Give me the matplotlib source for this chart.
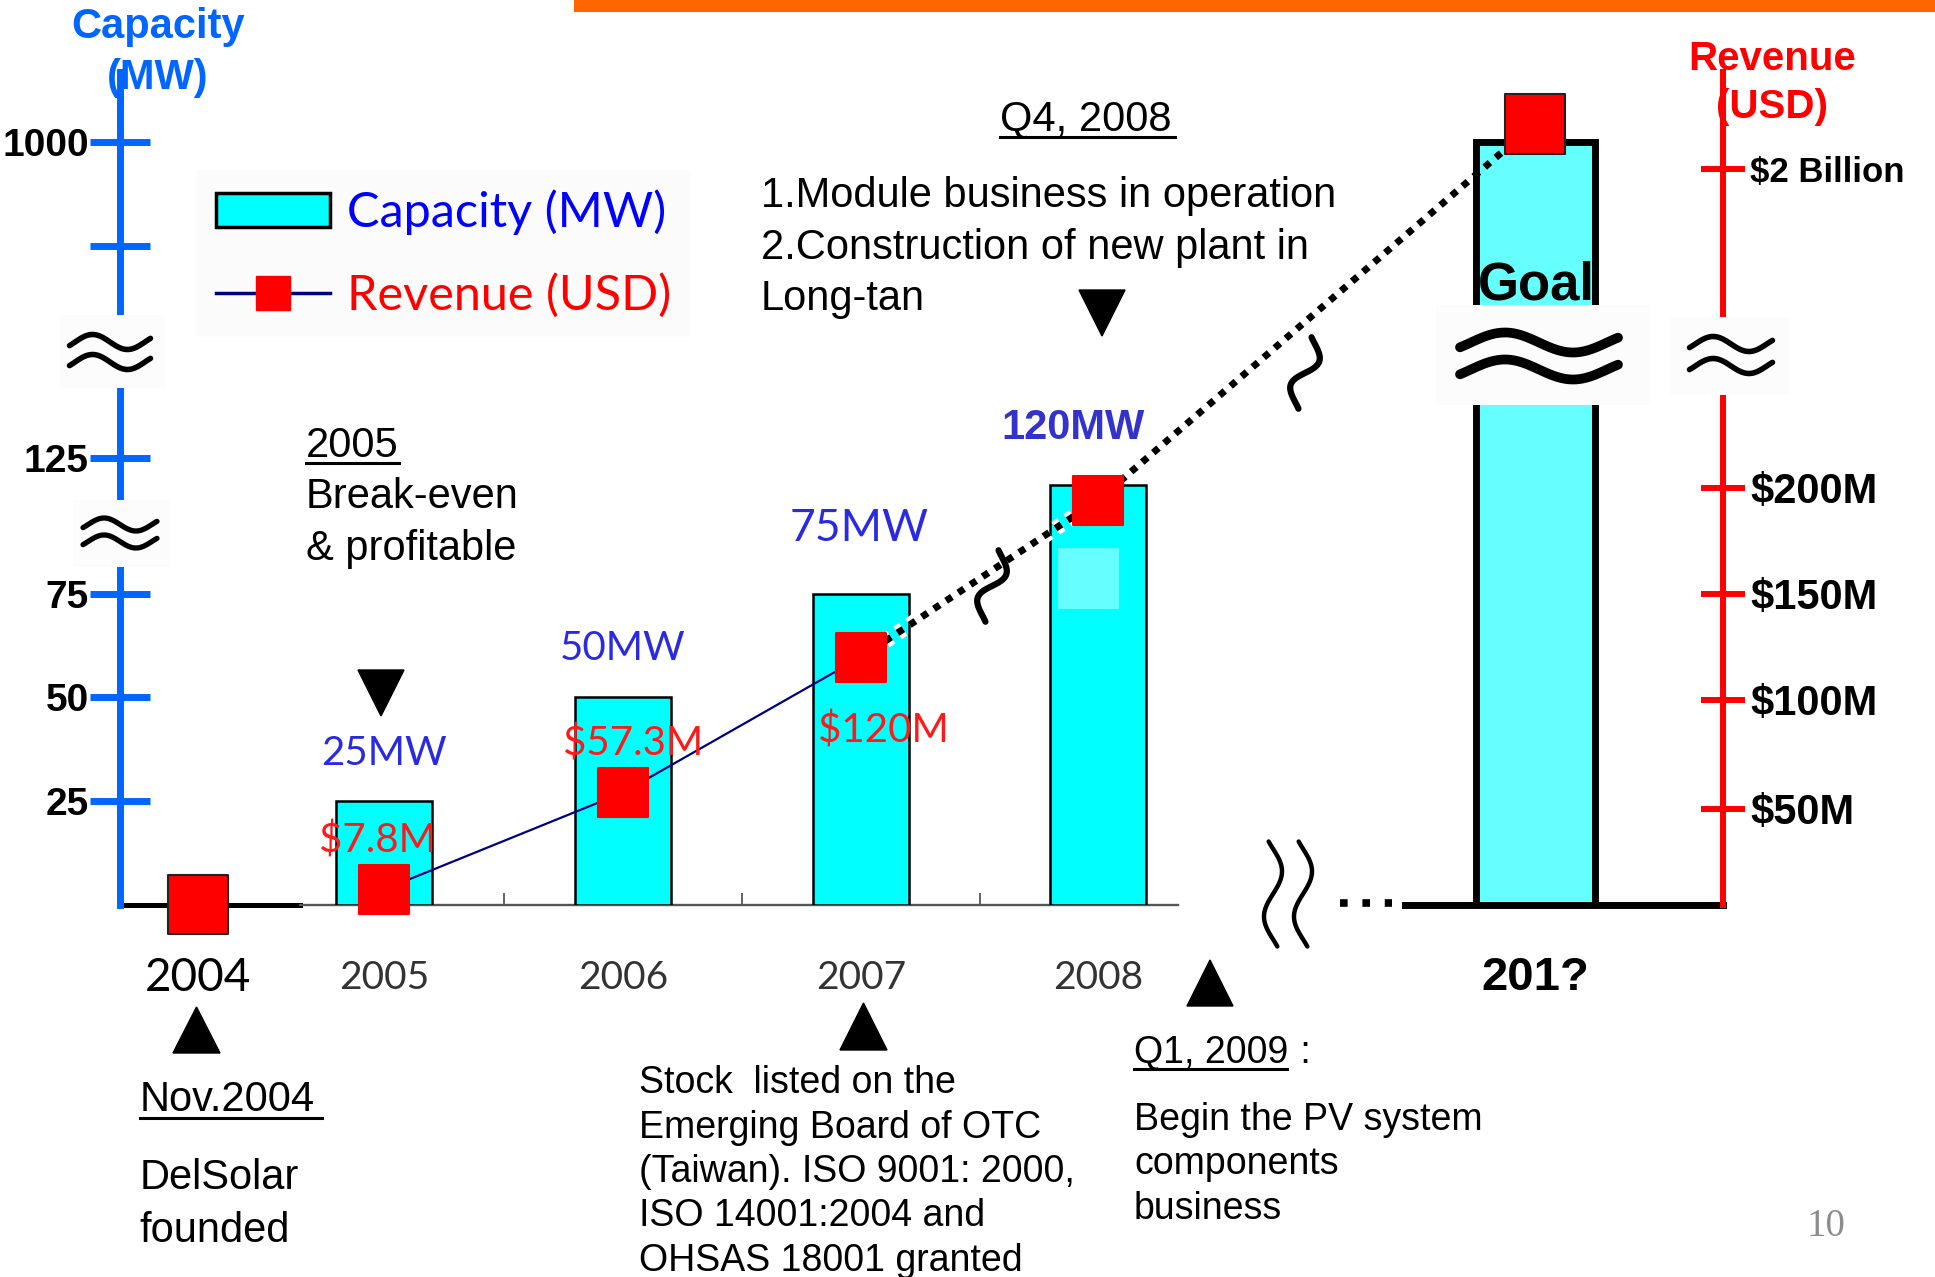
import numpy as np
import matplotlib
matplotlib.use('Agg')
import matplotlib.pyplot as plt
from matplotlib.patches import Patch, Rectangle, Polygon
from matplotlib.lines import Line2D
import matplotlib.patheffects as pe

plt.rcParams['font.family'] = ['Liberation Sans', 'DejaVu Sans']

# ---- data ----
years = ['2004', '2005', '2006', '2007', '2008', '201?']
capacity = [0, 25, 50, 75, 120, 1000]          # MW
revenue = [0, 7.8, 57.3, 120, 194, 2500]        # million USD
cap_labels = ['', '25MW', '50MW', '75MW', '120MW', '']
rev_labels = ['', '$7.8M', '$57.3M', '$120M', '', '']

cap_ticks = [25, 50, 75, 125, 500, 1000]
cap_ticklabels = ['25', '50', '75', '125', '', '1000']
rev_ticks = [50, 100, 150, 200, 2000]
rev_ticklabels = ['$50M', '$100M', '$150M', '$200M', '$2 Billion']

# broken axes: value -> pixels above the baseline
cap_brk = [0, 75, 120, 125, 500, 1000, 1500]
cap_brk_px = [0, 311, 419.5, 446.7, 659, 763, 870]
rev_brk = [0, 50, 100, 150, 200, 2000, 3000, 4000]
rev_brk_px = [0, 96, 205, 311, 417, 735.5, 826, 917]

# ---- layout ----
W, H = 1935, 1277
base = 904.5
top = 72
xpos = [198, 384, 623, 861, 1098, 1535]
BLUE_AX = '#0066ff'

fig = plt.figure(figsize=(W / 100, H / 100), dpi=100)
ax = fig.add_axes([120 / W, (H - base) / H, (1723 - 120) / W, (base - top) / H])
ax.set_xlim(120, 1723)

cap_f = lambda v: np.interp(v, cap_brk, cap_brk_px)
cap_i = lambda p: np.interp(p, cap_brk_px, cap_brk)
rev_f = lambda v: np.interp(v, rev_brk, rev_brk_px)
rev_i = lambda p: np.interp(p, rev_brk_px, rev_brk)

ax.set_yscale('function', functions=(cap_f, cap_i))
ax.set_ylim(0, cap_i(base - top))

# capacity bars
ax.bar(xpos[1:5], capacity[1:5], width=96, color='#00ffff', edgecolor='black',
       linewidth=1.8, zorder=2)
ax.bar(xpos[5], capacity[5], width=119, color='#66ffff', edgecolor='black',
       linewidth=5, zorder=2)

cap_off = [None, (0, 34), (0, 35), (-1.5, 47), (-18, 41)]
for i in range(1, 5):
    if i < 4:
        ax.annotate(cap_labels[i], (xpos[i], capacity[i]), xytext=cap_off[i],
                    textcoords='offset points', ha='center', va='center',
                    family='Lato', fontsize=32 if i == 3 else 29, color='#2a2ae0')
    else:
        ax.annotate(cap_labels[i], (xpos[i], capacity[i]), xytext=cap_off[i],
                    textcoords='offset points', ha='center', va='center',
                    fontsize=30, fontweight='bold', color='#3333cc')

# baseline pieces
ax.plot([120, 300], [0, 0], color='black', lw=3.6, clip_on=False, zorder=1)
ax.plot([300, 1178], [0, 0], color='#555555', lw=1.7, clip_on=False, zorder=1)
ax.plot([1405, 1723], [0, 0], color='black', lw=5, clip_on=False, zorder=1)

for s in ['top', 'right', 'bottom']:
    ax.spines[s].set_visible(False)
ax.spines['left'].set_color(BLUE_AX)
ax.spines['left'].set_linewidth(5)
ax.set_yticks(cap_ticks, cap_ticklabels)
ax.tick_params(axis='y', direction='inout', length=43, width=5, color=BLUE_AX,
               pad=1, labelsize=28)
for lab in ax.get_yticklabels():
    lab.set_fontweight('bold')

ax.set_xticks(xpos, years)
ax.set_xticks([(xpos[i] + xpos[i + 1]) / 2 for i in range(1, 4)], minor=True)
ax.tick_params(axis='x', which='major', length=0, pad=53)
ax.tick_params(axis='x', which='minor', direction='in', length=9, width=1.3,
               color='#555555')
xl = ax.get_xticklabels()
for i, lab in enumerate(xl):
    lab.set_va('center')
    if i == 0:
        lab.set_family('Lato'); lab.set_fontsize(33); lab.set_color('black')
    elif i < 5:
        lab.set_family('Lato'); lab.set_fontsize(28); lab.set_color('#333333')
    else:
        lab.set_fontsize(34); lab.set_fontweight('bold')

# revenue axis
ax2 = ax.twinx()
ax2.set_yscale('function', functions=(rev_f, rev_i))
ax2.set_ylim(0, rev_i(base - top))
for s in ['top', 'left', 'bottom']:
    ax2.spines[s].set_visible(False)
ax2.spines['right'].set_color('red')
ax2.spines['right'].set_linewidth(4.3)
ax2.set_yticks(rev_ticks, rev_ticklabels)
ax2.tick_params(axis='y', direction='inout', length=32, width=4.3, color='red',
                pad=3.5, labelsize=30)
for lab in ax2.get_yticklabels():
    lab.set_fontweight('bold')
ax2.get_yticklabels()[-1].set_fontsize(25)

ax2.plot(xpos[1:4], revenue[1:4], color='#000080', lw=1.6, zorder=2)
ax2.plot(xpos[3:5], revenue[3:5], color='black', lw=5, ls=(0, (1, 1.1)),
         dash_capstyle='butt', zorder=2,
         path_effects=[pe.withStroke(linewidth=11, foreground='white')])
ax2.plot(xpos[4:6], revenue[4:6], color='black', lw=5, ls=(0, (1, 1.1)),
         dash_capstyle='butt', zorder=2)
msz = [42.5, 35.3, 35.3, 35.3, 35.3, 43]
medge = ['#222222', 'red', 'red', 'red', 'red', '#222222']
ax2.scatter(xpos, revenue, s=np.array(msz) ** 2, marker='s', c='red',
            edgecolors=medge, linewidths=1.5, zorder=4, clip_on=False)

rev_off = [None, (-5, 35), (7, 35.5), (16, -52.5)]
for i in range(1, 4):
    ax2.annotate(rev_labels[i], (xpos[i], revenue[i]), xytext=rev_off[i],
                 textcoords='offset points', ha='center', va='center',
                 family='Lato', fontsize=29, color='#ff1a1a', zorder=5)

# legend
handles = [Patch(facecolor='#00ffff', edgecolor='black', linewidth=2.5),
           Line2D([], [], color='#000080', lw=2.5, marker='s', markersize=25,
                  markerfacecolor='red', markeredgecolor='red')]
leg = fig.legend(handles, ['Capacity (MW)', 'Revenue (USD)'], loc='upper left',
                 bbox_to_anchor=(197 / W, 1 - 170 / H),
                 prop={'family': 'Lato', 'size': 35}, handlelength=2.33,
                 handleheight=0.68, handletextpad=0.35, labelspacing=0.77,
                 borderpad=0.4, borderaxespad=0, fancybox=False,
                 facecolor='#fbfbfb', edgecolor='none', framealpha=1)
leg.get_texts()[0].set_color('#0000ff')
leg.get_texts()[1].set_color('#ff0000')

# ---- overlay in pixel coordinates for annotations ----
ov = fig.add_axes([0, 0, 1, 1], zorder=5)
ov.set_xlim(0, W)
ov.set_ylim(H, 0)
ov.axis('off')


def wave(cx, cy, length, amp, angle, lw):
    t = np.linspace(-0.08, 1.08, 80)
    u = (t - 0.5) * length / 1.16
    v = amp * np.sin(2 * np.pi * t)
    a = np.deg2rad(angle)
    ov.plot(cx + u * np.cos(a) - v * np.sin(a),
            cy - (u * np.sin(a) + v * np.cos(a)),
            color='black', lw=lw, solid_capstyle='round')


def approx(cx, cy, w, gap, amp, lw, box):
    x0, x1, y0, y1 = box
    ov.add_patch(Rectangle((x0, y0), x1 - x0, y1 - y0, color='#fcfcfc', lw=0))
    wave(cx, cy - gap / 2, w, amp, 0, lw)
    wave(cx, cy + gap / 2, w, amp, 0, lw)


def tri(x0, x1, y0, y1, down):
    if down:
        pts = [(x0, y0), (x1, y0), ((x0 + x1) / 2, y1)]
    else:
        pts = [(x0, y1), (x1, y1), ((x0 + x1) / 2, y0)]
    ov.add_patch(Polygon(pts, closed=True, color='black'))


def txt(x, y, s, **kw):
    kw.setdefault('fontsize', 30)
    kw.setdefault('va', 'center')
    ov.text(x, y, s, **kw)


def uline(x0, x1, y):
    ov.plot([x0, x1], [y, y], color='black', lw=2.2)


ov.add_patch(Rectangle((574, 0), W - 574, 12, color='#ff6600', lw=0))
ov.add_patch(Rectangle((1058, 548), 61, 61, color='#66ffff', lw=0))

approx(110, 352, 81, 20, 7.5, 4, (60, 165, 315, 388))
approx(120, 533, 74, 17, 6.5, 3.8, (73, 170, 500, 567))
approx(1731, 355, 83, 22, 7.5, 4, (1670, 1789, 317, 395))
approx(1539, 356, 158, 27, 10, 7, (1436, 1650, 305, 405))
wave(1273, 894, 105, 9, 90, 3.2)
wave(1303, 894, 105, 9, 90, 3.2)
wave(992, 586, 72, 10, 72, 4.5)
wave(1305, 373, 72, 10, 72, 4.5)
ov.plot([1340, 1392], [903, 903], color='black', lw=5.5, ls=(0, (1, 1.93)),
        dash_capstyle='butt')

tri(358, 404, 670, 716, True)
tri(1079, 1125, 290, 336, True)
tri(173, 220, 1007, 1053, False)
tri(840, 887, 1003, 1050, False)
tri(1187, 1233, 960, 1006, False)

txt(158, 27, 'Capacity', ha='center', fontweight='bold', color=BLUE_AX)
txt(158, 78, '(MW)', ha='center', fontweight='bold', color=BLUE_AX)
txt(1772, 59, 'Revenue', ha='center', fontweight='bold', color='red', fontsize=29)
txt(1772, 107, '(USD)', ha='center', fontweight='bold', color='red', fontsize=29)
txt(1478, 286, 'Goal', fontweight='bold', fontsize=38)

txt(1000, 119, 'Q4, 2008')
uline(1000, 1175, 137)
for k, s in enumerate(['1.Module business in operation',
                       '2.Construction of new plant in', 'Long-tan']):
    txt(761, 196 + 51.7 * k, s)

txt(306, 446, '2005')
uline(306, 399, 463)
txt(306, 497, 'Break-even')
txt(306, 549, '& profitable')

txt(139.5, 1100, 'Nov.2004')
uline(139.5, 322, 1118)
txt(139.5, 1178, 'DelSolar')
txt(139.5, 1231, 'founded')

for k, s in enumerate(['Stock  listed on the', 'Emerging Board of OTC',
                       '(Taiwan). ISO 9001: 2000,', 'ISO 14001:2004 and',
                       'OHSAS 18001 granted']):
    txt(639, 1083 + 44.5 * k, s, fontsize=27)

txt(1134, 1053, 'Q1, 2009', fontsize=27)
uline(1134, 1287, 1069)
txt(1290, 1053, ' :', fontsize=27)
for k, s in enumerate(['Begin the PV system', 'components', 'business']):
    txt(1134, 1120 + 44.5 * k, s, fontsize=27)

txt(1826, 1226, '10', ha='center', family='Liberation Serif', fontsize=28,
    color='#8c8c8c')

fig.savefig('out.png', dpi=100)
